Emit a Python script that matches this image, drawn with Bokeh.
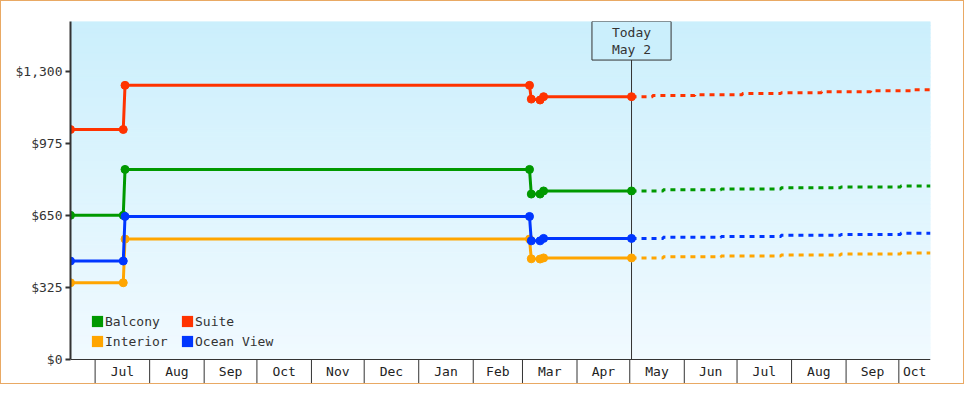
from datetime import datetime
import numpy as np
import pandas as pd
from bokeh.plotting import figure
from bokeh.models import (Range1d, FixedTicker, NumeralTickFormatter, Legend,
                          LegendItem, Label)
from bokeh.core.properties import value
from bokeh.embed import file_html
from bokeh.resources import INLINE

# ---------------- data ----------------
dates = ["2024-06-17", "2024-07-17", "2024-07-18", "2025-03-05",
         "2025-03-06", "2025-03-11", "2025-03-13", "2025-05-02"]
balcony = [650, 650, 857, 857, 746, 746, 760, 760]
suite = [1037, 1037, 1236, 1236, 1174, 1170, 1185, 1185]
interior = [346, 346, 543, 543, 454, 453, 458, 458]
ocean_view = [444, 444, 645, 645, 535, 535, 546, 546]

forecast_dates = ["2025-05-02", "2025-05-20", "2025-06-22", "2025-07-26",
                  "2025-08-29", "2025-10-02", "2025-10-19"]
balcony_fc = [760, 765, 769, 774, 778, 782, 782]
interior_fc = [458, 463, 467, 471, 476, 480, 480]
ocean_view_fc = [546, 551, 555, 560, 564, 569, 569]
suite_fc_dates = ["2025-05-02", "2025-05-14", "2025-06-07", "2025-07-04",
                  "2025-07-26", "2025-08-18", "2025-09-15", "2025-10-08",
                  "2025-10-19"]
suite_fc = [1185, 1190, 1194, 1199, 1203, 1207, 1212, 1216, 1216]

y_ticks = [0, 325, 650, 975, 1300]
month_labels = ["Jul", "Aug", "Sep", "Oct", "Nov", "Dec", "Jan", "Feb",
                "Mar", "Apr", "May", "Jun", "Jul", "Aug", "Sep", "Oct"]
first_month = "2024-07-01"
today = "2025-05-02"
today_text = "Today\nMay 2"
x_start, x_end = "2024-06-17", "2025-10-19"

# ---------------- styling ----------------
C_BAL, C_SUI, C_INT, C_OCE = "#009900", "#FF3300", "#FFA500", "#0036FF"
TOP_RGB = np.array([203, 239, 252])
BOT_RGB = np.array([241, 250, 255])
INK = "#333333"
FONT = "DejaVu Sans Mono"

def dt(s):
    return pd.Timestamp(s).to_pydatetime()

X0, X1 = dt(x_start), dt(x_end)
Y_TOP = 1524.0
PX = Y_TOP / 338.0            # dollars per pixel in the plot
Y_BOTTOM = -25 * PX           # room for the month band
BAND_LINE = -24 * PX
BAND_MID = -12 * PX

p = figure(width=964, height=384, x_range=Range1d(X0, X1),
           y_range=Range1d(Y_BOTTOM, Y_TOP), output_backend="svg",
           toolbar_location=None, x_axis_location=None,
           min_border_left=69, min_border_right=35, min_border_top=20,
           min_border_bottom=1, background_fill_color="white",
           border_fill_color="white", outline_line_color=None)
p.grid.visible = False
p.styles = {"border": "1px solid #E9A964"}

# gradient background of the plotting area
n = 85
edges = np.linspace(0, Y_TOP, n + 1)
t = ((edges[:-1] + edges[1:]) / 2) / Y_TOP
cols = ["#%02x%02x%02x" % tuple(int(round(c)) for c in (BOT_RGB + (TOP_RGB - BOT_RGB) * tt)) for tt in t]
p.quad(left=X0, right=X1, bottom=edges[:-1], top=edges[1:], fill_color=cols,
       line_color=cols, line_width=1)

# month band
month_starts = list(pd.date_range(first_month, periods=len(month_labels), freq="MS").to_pydatetime())
bounds = month_starts + [X1]
mids = [a + (b - a) / 2 for a, b in zip(bounds[:-1], bounds[1:])]
p.segment(x0=month_starts, y0=0, x1=month_starts, y1=BAND_LINE, line_color=INK, line_width=1)
p.segment(x0=[X0, X0], y0=[0, BAND_LINE], x1=[X1, X1], y1=[0, BAND_LINE], line_color=INK, line_width=1)
p.text(x=mids, y=BAND_MID, text=month_labels, text_align="center", text_baseline="middle",
       text_font=value(FONT), text_font_size="13px", text_color="#222222")

# today line
p.segment(x0=[dt(today)], y0=[0], x1=[dt(today)], y1=[Y_TOP], line_color=INK, line_width=1)

# series
hist_dates = [dt(d) for d in dates]
series = [
    ("Balcony", balcony, forecast_dates, balcony_fc, C_BAL),
    ("Suite", suite, suite_fc_dates, suite_fc, C_SUI),
    ("Interior", interior, forecast_dates, interior_fc, C_INT),
    ("Ocean View", ocean_view, forecast_dates, ocean_view_fc, C_OCE),
]
for name, vals, fcd, fcv, color in series:
    p.step([dt(d) for d in fcd], fcv, mode="after", line_width=3, line_color=color,
           line_dash="5 5")
    p.line(hist_dates, vals, line_width=3, line_color=color)
    p.scatter(hist_dates, vals, size=8, fill_color=color, line_color=color)

# legend (filled squares)
items = []
for name, vals, fcd, fcv, color in series:
    r = p.quad(left=[np.nan], right=[np.nan], top=[np.nan], bottom=[np.nan],
               fill_color=color, line_color=None)
    items.append(LegendItem(label=name, renderers=[r]))
legend = Legend(items=items, location=(20, 33), orientation="horizontal", ncols=2,
                glyph_width=14, glyph_height=14, label_standoff=1, spacing=0,
                padding=0, margin=0, border_line_color=None, background_fill_alpha=0,
                label_text_font=FONT, label_text_font_size="13px",
                label_text_color=INK, label_height=20, label_width=75)
p.add_layout(legend)

# today box
lab = Label(x=dt(today), y=Y_TOP, text=today_text, text_align="center",
            text_baseline="top", text_font=FONT, text_font_size="13px",
            text_color=INK, text_line_height=1.17, padding=(20, 20, 3, 3),
            border_line_color=INK, border_line_width=1,
            background_fill_color="#%02x%02x%02x" % tuple(TOP_RGB))
p.add_layout(lab)

# y axis
ax = p.yaxis[0]
ax.ticker = FixedTicker(ticks=y_ticks)
ax.formatter = NumeralTickFormatter(format="$0,0")
ax.bounds = (0, Y_TOP)
ax.axis_line_width = 2
ax.axis_line_color = INK
ax.major_tick_line_width = 2
ax.major_tick_line_color = INK
ax.major_tick_out = 5
ax.major_tick_in = 0
ax.minor_tick_line_color = None
ax.major_label_text_font = FONT
ax.major_label_text_font_size = "13px"
ax.major_label_text_color = INK
ax.major_label_standoff = 3

open("out.html", "w").write(file_html(p, INLINE))
